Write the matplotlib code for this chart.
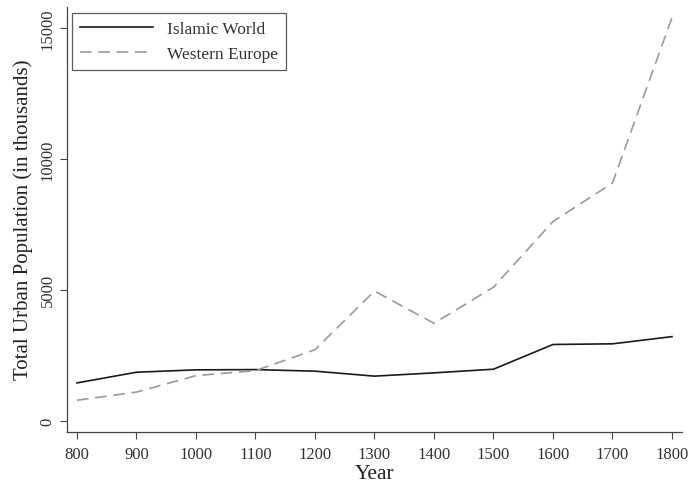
import numpy as np
import matplotlib
matplotlib.use('Agg')
import matplotlib.pyplot as plt

plt.rcParams['font.family'] = ['Liberation Serif', 'DejaVu Serif']

years = [800, 900, 1000, 1100, 1200, 1300, 1400, 1500, 1600, 1700, 1800]
islamic = [1440, 1850, 1940, 1950, 1890, 1700, 1825, 1965, 2910, 2935, 3210]
western = [780, 1090, 1720, 1910, 2710, 4950, 3720, 5100, 7610, 9080, 15400]

fig = plt.figure(figsize=(6.89, 4.85), dpi=100)
ax = fig.add_axes([0.097, 0.108, 0.893, 0.876])

ax.plot(years, islamic, color='#1a1a1a', lw=1.2, label='Islamic World')
ax.plot(years, western, color='#9a9a9a', lw=1.2, dashes=(7, 4), label='Western Europe')

ax.set_xlim(783, 1817)
ax.set_ylim(-420, 15815)
ax.set_xticks(years)
ax.set_yticks([0, 5000, 10000, 15000])
for lab in ax.get_yticklabels():
    lab.set_rotation(90)
    lab.set_va('center')

for s in ['top', 'right']:
    ax.spines[s].set_visible(False)
for s in ['left', 'bottom']:
    ax.spines[s].set_color('#444444')
    ax.spines[s].set_linewidth(0.9)
ax.tick_params(colors='#444444', labelcolor='#333333', labelsize=12, length=5, width=0.8)
ax.tick_params(axis='x', pad=5)
ax.tick_params(axis='y', pad=3)

ax.set_xlabel('Year', fontsize=15.5, color='#222222', labelpad=1.5)
ax.set_ylabel('Total Urban Population (in thousands)', fontsize=15, color='#222222', labelpad=5)

leg = ax.legend(loc='upper left', fontsize=12.5, frameon=True, fancybox=False,
                edgecolor='#333333', handlelength=4.2, borderpad=0.45,
                handletextpad=0.8, borderaxespad=0,
                bbox_to_anchor=(0.009, 0.985), labelspacing=0.5)
leg.get_frame().set_linewidth(0.9)
for t in leg.get_texts():
    t.set_color('#333333')

plt.savefig('out.png', dpi=100)
plt.close()
